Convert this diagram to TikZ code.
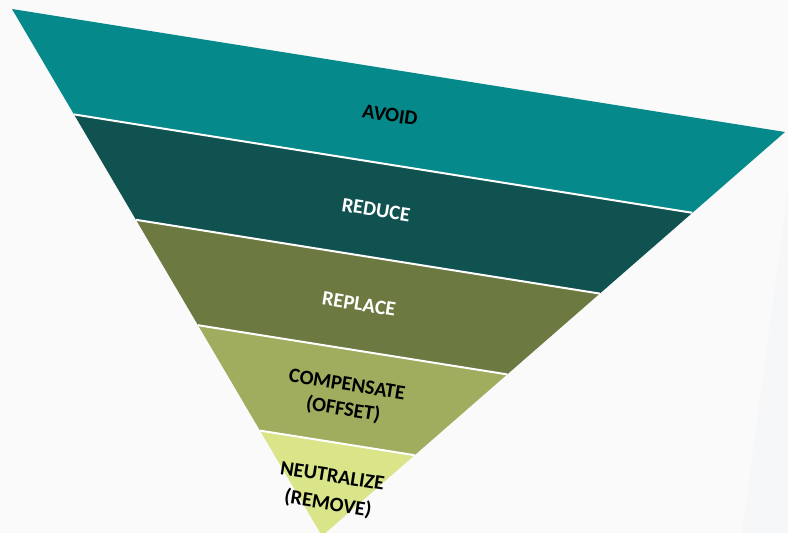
\documentclass[tikz,border=0pt]{standalone}
\usepackage{fontspec}
\setmainfont{Carlito}
\usetikzlibrary{calc}

\definecolor{bgpaper}{RGB}{250,250,250}
\definecolor{bgshade}{RGB}{246,247,249}
\definecolor{bandA}{RGB}{5,137,138}
\definecolor{bandB}{RGB}{16,82,80}
\definecolor{bandC}{RGB}{108,122,66}
\definecolor{bandD}{RGB}{160,172,94}
\definecolor{bandE}{RGB}{218,229,138}

\tikzset{
  divider/.style={draw=white, line width=2pt},
  bandlabel/.style={font=\fontsize{20.5}{25}\selectfont\bfseries, rotate=-9, align=center, inner sep=0pt},
}

\begin{document}
\begin{tikzpicture}[x=1pt, y=-1pt]
  % page area and soft backdrop
  \clip (0,0) rectangle (788,533);
  \fill[bgpaper] (0,0) rectangle (788,533);
  \fill[bgshade] (788,190) -- (742,533) -- (788,533) -- cycle;

  % corners of the tilted inverted triangle
  \coordinate (A) at (12,9);
  \coordinate (B) at (785,132);
  \coordinate (C) at (322,536);

  % band boundaries on both slanted sides
  \foreach \k in {1,2,3,4} {
    \coordinate (L\k) at ($(A)!\k/5!(C)$);
    \coordinate (R\k) at ($(B)!\k/5!(C)$);
  }

  % the five bands
  \fill[bandA] (A) -- (B) -- (R1) -- (L1) -- cycle;
  \fill[bandB] (L1) -- (R1) -- (R2) -- (L2) -- cycle;
  \fill[bandC] (L2) -- (R2) -- (R3) -- (L3) -- cycle;
  \fill[bandD] (L3) -- (R3) -- (R4) -- (L4) -- cycle;
  \fill[bandE] (L4) -- (R4) -- (C) -- cycle;

  % white dividers between bands
  \foreach \k in {1,2,3,4} {
    \draw[divider] (L\k) -- (R\k);
  }

  % labels
  \node[bandlabel, text=black] (avoid) at (390,115) {AVOID};
  \node[bandlabel, text=white] (reduce) at (376,210) {REDUCE};
  \node[bandlabel, text=white] (replace) at (359,304) {REPLACE};
  \node[bandlabel, text=black] (compensate) at (345,398) {COMPENSATE\\(OFFSET)};
  \node[bandlabel, text=black, font=\fontsize{20.5}{28}\selectfont\bfseries] (neutralize) at (330,491) {NEUTRALIZE\\(REMOVE)};
\end{tikzpicture}
\end{document}
